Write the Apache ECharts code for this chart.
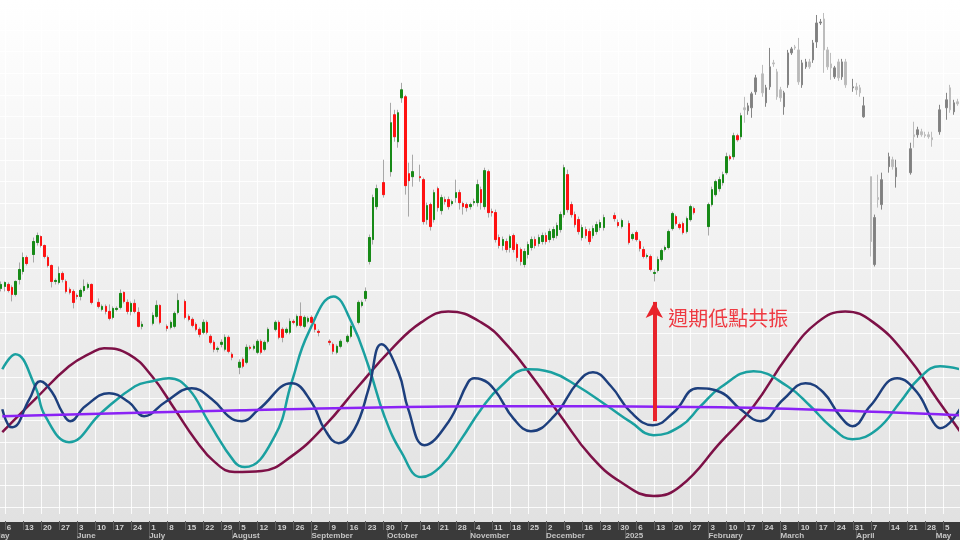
<!DOCTYPE html>
<html><head><meta charset="utf-8">
<script src="https://cdn.jsdelivr.net/npm/echarts@6/dist/echarts.min.js"></script>
<style>html,body{margin:0;padding:0;background:#fff;overflow:hidden}#c{position:absolute;left:-9px;top:0;width:969px;height:540px}</style>
</head><body><div id="c"></div>
<script>
// ---------- data ----------
const startDate = '2024-05-01';
const endDate = '2025-05-09';
const laterFrom = 208; // candles from this index are shown in grey
// [open, close, low, high] per weekday (null = no trading / not read)
const ohlc = [
null,null,[226,230,223,233],[228,232,223,233],[230,224,222,232],[227,220,213,229],[220,233,218,234],[235,245,230,252],[243,257,240,262],[257,251,249,259],
null,[260,273,252,277],[272,279,269,282],[278,269,267,279],[269,258,256,270],[257,249,247,259],[249,233,227,250],[233,234,230,236],[232,241,230,248],[241,235,232,243],
[233,223,221,235],[225,222,220,227],[223,212,206,225],[219,218,215,221],[218,224,214,226],[224,228,222,235],[227,230,225,232],[230,212,210,231],null,[212,208,206,216],
[205,208,203,210],[208,203,200,210],[203,196,194,210],[197,206,195,208],[205,206,203,208],[207,221,205,225],[222,213,211,223],[212,203,200,215],[203,211,199,213],[211,203,201,215],
[202,188,187,207],[188,190,185,193],null,null,[191,199,189,202],[198,209,196,214],[209,192,190,210],null,[188,186,183,190],[187,192,185,194],
[188,201,186,203],[202,214,200,221],null,[213,197,195,215],[198,195,193,200],[195,189,187,197],[190,185,183,192],[185,180,177,187],[182,192,180,195],[192,182,180,194],
[178,172,170,180],[172,165,162,174],[165,166,162,168],[170,172,167,175],[165,177,163,180],[177,163,161,179],[160,157,154,162],null,[147,152,140,155],[155,148,146,157],
[152,167,150,170],[167,166,164,169],[166,168,164,170],[162,173,160,175],[173,162,160,175],[165,172,163,174],[173,185,171,187],null,[185,192,183,194],[192,177,175,194],
[185,177,172,187],[182,185,180,187],[182,193,180,196],[193,192,190,195],[189,198,187,200],[198,189,187,212],[188,197,186,199],[193,196,191,198],[197,192,190,199],[190,185,182,192],
[183,182,178,185],null,null,[173,172,169,175],[170,163,160,172],[162,168,160,170],[168,173,166,175],null,[173,178,171,180],[178,188,176,190],
null,[192,212,190,214],[209,212,207,214],[216,223,213,227],[253,277,250,280],[275,317,270,320],[308,326,305,330],null,[332,320,317,355],null,
[343,392,338,412],[400,378,373,405],[373,402,367,405],[417,425,412,432],[418,329,320,420],[341,334,298,352],[338,343,328,360],null,[338,337,333,350],[335,293,290,337],
[295,309,290,312],[310,288,284,312],[295,322,292,325],[326,307,303,328],[304,317,300,320],[315,313,310,318],[315,308,305,318],[311,313,309,315],[317,322,312,335],[322,312,305,325],
[311,308,300,313],[310,307,303,312],[308,310,305,312],[312,313,309,316],[312,330,308,335],[325,312,305,328],[308,344,305,347],[343,302,297,345],[303,302,298,306],[302,275,272,305],
[277,269,266,280],[269,275,264,278],[273,265,262,276],[267,278,262,280],[279,265,262,281],[270,257,253,272],[265,253,249,267],[250,263,247,266],[260,270,256,273],[267,275,264,278],
[275,269,266,278],[271,277,268,280],[273,279,270,282],[279,273,270,282],[275,283,272,286],[277,285,274,288],[279,289,276,292],[285,300,282,303],[300,347,297,350],[340,305,302,345],
[310,300,297,313],[300,290,287,303],[295,283,280,298],[277,287,274,290],[285,279,276,288],[283,273,270,286],[279,286,276,289],[283,290,280,293],[287,292,284,295],[287,297,284,300],
null,null,[299,296,293,302],[292,289,287,295],[288,294,286,296],null,[291,272,270,294],[276,280,274,282],[282,275,273,284],[273,266,263,275],
[265,258,256,268],[258,259,256,261],[258,245,243,260],[241,242,233,245],[244,255,242,258],[255,264,253,266],[265,267,263,269],[267,283,265,285],[286,301,284,303],[298,291,289,300],
[290,287,285,292],[291,282,280,293],[283,296,281,298],[295,308,293,310],[306,302,300,308],null,null,null,[288,310,279,312],[310,325,308,328],
[320,333,318,335],[326,335,323,338],[332,340,329,343],[342,358,340,362],[358,356,354,360],[358,379,355,382],[379,375,373,381],[378,399,375,402],[407,405,392,418],[404,409,400,412],
[407,421,397,423],[423,437,420,440],null,[441,422,418,450],[412,427,408,430],[428,448,425,467],[452,451,448,455],[443,418,415,446],[425,417,413,428],[408,422,400,424],
[430,462,427,465],[462,466,460,468],[468,467,465,470],[465,433,430,477],[430,452,427,455],[448,453,446,456],[453,448,446,456],[455,472,452,475],[473,492,467,500],[492,493,490,496],
[496,465,442,502],[465,448,445,468],[451,447,435,462],[438,447,436,449],[453,437,434,456],[438,453,435,456],[453,430,427,456],null,[427,428,423,436],[428,425,420,432],
[427,422,418,430],[398,409,397,418],null,[338,273,258,338],[250,297,248,300],[317,315,307,340],[310,335,305,342],null,[348,358,342,362],[355,348,345,358],
[338,347,327,355],null,null,null,[342,366,340,372],[380,378,367,393],[380,385,377,388],[383,380,378,386],[380,379,377,383],[380,378,376,383],
[377,375,368,383],null,[383,405,380,410],null,[407,415,395,422],[427,405,402,430],[403,412,400,415],[413,411,409,416]
];
// cycle curves: [weekday index, cycle value]
const cycleLong = [[2.3,-0.21],[11.4,0.12],[20.8,0.45],[27.2,0.59],[30.5,0.63],[37.4,0.57],[43.8,0.35],[50.1,0.02],[55.7,-0.28],[61.2,-0.51],[66.7,-0.61],[74.2,-0.60],[82.5,-0.45],[91.6,-0.15],[101.0,0.25],[110.1,0.62],[118.4,0.89],[125.9,1.00],[135.0,0.89],[142.5,0.65],[149.7,0.32],[157.1,-0.05],[165.4,-0.45],[173.7,-0.71],[182.8,-0.85],[190.3,-0.75],[201.4,-0.31],[210.5,0.05],[219.9,0.55],[228.2,0.89],[235.9,1.00],[243.7,0.89],[253.1,0.55],[261.4,0.12],[267.7,-0.20]];
const cycleMid = [[2.3,0.42],[5.9,0.57],[11.4,0.25],[14.2,-0.05],[20.8,-0.31],[29.9,-0.01],[39.1,0.25],[43.8,0.30],[48.5,0.33],[54.0,0.22],[59.5,-0.11],[66.7,-0.51],[69.5,-0.56],[77.8,-0.25],[82.5,0.29],[87.2,0.79],[94.1,1.15],[99.1,0.89],[103.8,0.45],[108.2,-0.05],[112.9,-0.41],[118.4,-0.66],[123.9,-0.55],[129.5,-0.28],[135.0,0.02],[140.5,0.25],[148.0,0.42],[154.4,0.39],[161.8,0.25],[170.1,0.05],[176.5,-0.11],[182.8,-0.24],[190.3,-0.15],[195.8,0.05],[201.4,0.24],[210.5,0.40],[219.9,0.25],[226.3,0.05],[231.8,-0.15],[237.9,-0.28],[244.8,-0.18],[251.1,0.09],[256.7,0.34],[262.2,0.45],[267.7,0.42]];
const cycleShort = [[2.3,0.02],[4.2,-0.15],[5.1,-0.16],[9.8,0.12],[12.8,0.30],[16.1,0.19],[18.9,-0.01],[21.1,-0.10],[25.3,0.05],[31.9,0.18],[37.4,0.09],[41.6,-0.05],[47.4,0.09],[54.8,0.23],[60.4,0.12],[66.7,-0.09],[68.7,-0.10],[73.4,0.02],[82.5,0.28],[88.0,0.09],[91.6,-0.18],[95.5,-0.32],[99.9,-0.18],[103.8,0.22],[107.4,0.67],[112.1,0.39],[114.8,0.02],[119.3,-0.34],[125.9,-0.11],[131.4,0.29],[133.1,0.33],[135.0,0.32],[138.6,0.22],[144.1,-0.08],[148.8,-0.20],[155.2,-0.05],[161.8,0.29],[166.0,0.39],[171.0,0.25],[176.5,-0.01],[182.6,-0.14],[188.4,-0.01],[195.0,0.23],[201.4,0.19],[206.9,0.02],[212.4,-0.10],[218.8,0.12],[224.9,0.28],[229.8,0.19],[234.5,-0.05],[237.9,-0.15],[242.8,0.05],[250.3,0.33],[255.8,0.19],[260.3,-0.11],[262.2,-0.17],[267.7,0.02]];
const cycleTrend = [[2.3,-0.05],[68.7,0.01],[135.0,0.05],[201.4,0.04],[267.7,-0.04]];
const lowIndex = 183;
const arrowFrom = -0.10, arrowTo = 1.095, noteLevel = 0.93;
const noteText = '週期低點共振';
const monthNames = ['January','February','March','April','May','June','July','August','September','October','November','December'];

// ---------- build ----------
function weekdays(a, b) {
  const out = [], d = new Date(a + 'T00:00:00Z'), e = new Date(b + 'T00:00:00Z');
  while (d <= e) { const w = d.getUTCDay(); if (w !== 0 && w !== 6) out.push(d.toISOString().slice(0, 10)); d.setUTCDate(d.getUTCDate() + 1); }
  return out;
}
const dates = weekdays(startDate, endDate);
const isMonday = dates.map(s => new Date(s + 'T00:00:00Z').getUTCDay() === 1);
const isMonthStart = dates.map((s, i) => i === 0 || s.slice(5, 7) !== dates[i - 1].slice(5, 7));
const EMPTY = ['-', '-', '-', '-'];
const liveFull = ohlc.map((d, i) => (d && i < laterFrom) ? d : EMPTY);
const liveBody = ohlc.map((d, i) => (d && i < laterFrom) ? [d[0], d[1], Math.min(d[0], d[1]), Math.max(d[0], d[1])] : EMPTY);
const laterFull = ohlc.map((d, i) => (d && i >= laterFrom) ? d : EMPTY);
const N = dates.length;

const chart = echarts.init(document.getElementById('c'), null, {renderer: 'canvas'});
const lineCommon = {type: 'line', xAxisIndex: 2, yAxisIndex: 1, smooth: 0.45, symbol: 'none', silent: true, z: 3};
const labelFont = {fontSize: 8, fontWeight: 'bold', fontFamily: 'Liberation Sans, Arial, sans-serif', color: '#cfcfcf'};
chart.setOption({
  animation: false,
  backgroundColor: new echarts.graphic.LinearGradient(0, 0, 0, 1, [{offset: 0, color: '#ffffff'}, {offset: 1, color: '#e0e0e0'}]),
  graphic: [{type: 'rect', left: 0, top: 522, shape: {width: 969, height: 18}, style: {fill: '#3a3a3a'}, z: -1}],
  grid: [
    {left: 0, right: 2.6, top: 0, bottom: 25},
    {left: 0, right: 0, top: 8.2, bottom: 33}
  ],
  xAxis: [
    {type: 'category', gridIndex: 0, data: dates, boundaryGap: false, position: 'bottom', offset: 7,
     axisLine: {show: false, onZero: false},
     axisTick: {show: true, interval: (i) => isMonday[i], length: 9, lineStyle: {color: '#5e5e5e'}},
     axisLabel: Object.assign({interval: (i) => isMonday[i], align: 'left', padding: [0, 0, 0, 2], margin: 3,
       formatter: v => String(parseInt(v.slice(8), 10))}, labelFont),
     splitLine: {show: true, interval: (i) => isMonday[i], lineStyle: {color: 'rgba(255,255,255,0.85)', width: 1}}},
    {type: 'category', gridIndex: 0, data: dates, boundaryGap: false, position: 'bottom', offset: 16,
     axisLine: {show: false, onZero: false},
     axisTick: {show: true, interval: (i) => isMonthStart[i], length: 9, lineStyle: {color: '#5e5e5e'}},
     axisLabel: Object.assign({interval: (i) => isMonthStart[i], align: 'left', margin: 2,
       formatter: v => { const m = parseInt(v.slice(5, 7), 10) - 1; return m === 0 ? v.slice(0, 4) : monthNames[m]; }}, labelFont, {color: '#c4c4c4'}),
     splitLine: {show: false}},
    {type: 'value', gridIndex: 0, min: 0, max: N - 1, show: false, axisLine: {onZero: false}},
    {type: 'value', gridIndex: 1, min: 0, max: 1, show: false, axisLine: {onZero: false}}
  ],
  yAxis: [
    {type: 'value', gridIndex: 0, min: 0, max: 515, show: false, axisLine: {onZero: false}},
    {type: 'value', gridIndex: 0, min: -1.03, max: 4.12, show: false, axisLine: {onZero: false}},
    {type: 'value', gridIndex: 1, min: 0, max: 23, interval: 1, axisLine: {show: false, onZero: false}, axisTick: {show: false}, axisLabel: {show: false},
     splitLine: {show: true, lineStyle: {color: 'rgba(255,255,255,0.85)', width: 1}}}
  ],
  series: [
    {type: 'candlestick', xAxisIndex: 0, yAxisIndex: 0, data: liveFull, barWidth: 2, silent: true, z: 4,
     itemStyle: {color: '#a8a8a8', color0: '#a8a8a8', borderColor: '#a8a8a8', borderColor0: '#a8a8a8', borderWidth: 1}},
    {type: 'candlestick', xAxisIndex: 0, yAxisIndex: 0, data: liveBody, barWidth: 2, silent: true, z: 5,
     itemStyle: {color: '#178a17', color0: '#ff1212', borderColor: '#178a17', borderColor0: '#ff1212', borderWidth: 1}},
    {type: 'candlestick', xAxisIndex: 0, yAxisIndex: 0, data: laterFull, barWidth: 2, silent: true, z: 4,
     itemStyle: {color: '#808080', color0: '#b9b9b9', borderColor: '#858585', borderColor0: '#bdbdbd', borderWidth: 1}},
    Object.assign({}, lineCommon, {data: cycleLong, lineStyle: {color: '#7d1147', width: 2.5}}),
    Object.assign({}, lineCommon, {data: cycleMid, lineStyle: {color: '#1aa0a0', width: 2.5}}),
    Object.assign({}, lineCommon, {data: cycleShort, lineStyle: {color: '#1d3f7d', width: 2.5}}),
    Object.assign({}, lineCommon, {data: cycleTrend, smooth: 0.3, lineStyle: {color: '#8a22f5', width: 2.5},
      markLine: {silent: true, symbol: ['none', 'arrow'], symbolSize: [13, 16], animation: false,
        lineStyle: {color: '#e8232b', width: 4, type: 'solid'}, label: {show: false},
        data: [[{coord: [lowIndex, arrowFrom]}, {coord: [lowIndex, arrowTo]}]]},
      markPoint: {silent: true, symbol: 'circle', symbolSize: 0.1, itemStyle: {color: 'rgba(0,0,0,0)'},
        data: [{coord: [lowIndex, noteLevel],
          label: {show: true, position: 'right', distance: 14, formatter: noteText, color: '#ee3a42', fontSize: 20,
            fontFamily: 'Noto Sans CJK TC, sans-serif'}}]}})
  ]
});
</script></body></html>
